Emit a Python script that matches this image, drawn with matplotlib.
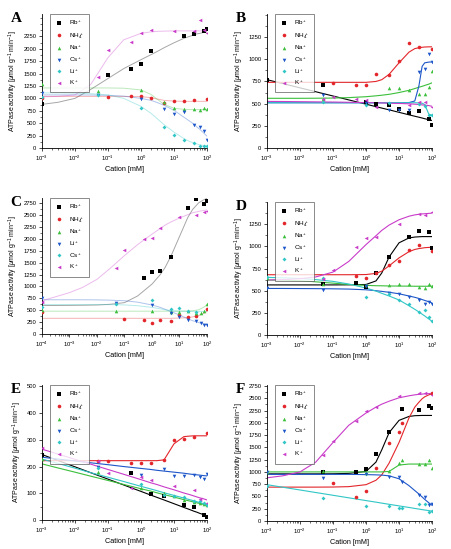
import numpy as np
import matplotlib.pyplot as plt
from matplotlib.ticker import LogLocator, NullFormatter

plt.rcParams['font.family'] = ['Liberation Sans', 'DejaVu Sans']
plt.rcParams['mathtext.fontset'] = 'custom'
plt.rcParams['mathtext.rm'] = 'Liberation Sans'
plt.rcParams['mathtext.it'] = 'Liberation Sans:italic'

# concentrations of measured points [mM]
conc = [0.001, 0.05, 0.1, 0.5, 1, 2, 5, 10, 20, 40, 60, 80, 100]
conc_C = [0.0001, 0.05, 0.1, 0.5, 1, 2, 5, 10, 20, 40, 60, 80, 100]
conc_F = [0.001, 0.05, 0.1, 0.5, 1, 2, 5, 10, 12, 40, 60, 80, 100]
# x where the fitted curves were read
fit_x = [0.001, 0.003, 0.01, 0.03, 0.1, 0.3, 1, 2, 3, 5, 10, 20, 30, 40, 50, 60, 80, 100]
fit_x_C = [0.0001, 0.0003, 0.001, 0.003, 0.01, 0.03, 0.1, 0.3, 1, 2, 3, 5, 10, 20, 30, 50, 80, 100]

# ---- panel A ----
A_rb = [880, None, 1480, 1590, 1700, 1950, None, None, 2260, 2290, None, 2360, 2390]
A_nh4 = [1000, None, 1020, 1040, 1040, 1000, 900, 940, 950, 960, None, None, 990]
A_na = [1290, 1150, None, None, 1160, None, 920, 810, 790, 790, 770, 800, 780]
A_cs = [1110, 1060, None, None, 990, None, 790, 690, 730, 470, 420, 350, 170]
A_li = [1030, 1060, None, None, 810, None, 430, 270, 170, 100, 40, 40, 40]
A_k = [None, 1440, 1980, 2140, 2320, 2380, None, 2350, None, 2350, 2570, 2370, 2320]
A_rb_fit = [880, 920, 1000, 1180, 1400, 1600, 1780, 1880, 1940, 2020, 2120, 2210, 2250, 2280, 2300, 2310, 2330, 2340]
A_nh4_fit = [1040, 1040, 1040, 1040, 1040, 1040, 1035, 1015, 990, 960, 945, 940, 940, 940, 940, 940, 940, 940]
A_na_fit = [1210, 1210, 1210, 1210, 1210, 1205, 1170, 1080, 990, 880, 800, 780, 775, 775, 775, 775, 775, 775]
A_cs_fit = [1070, 1070, 1070, 1068, 1062, 1045, 1000, 960, 920, 860, 760, 620, 540, 480, 420, 380, 300, 240]
A_li_fit = [1110, 1110, 1105, 1095, 1070, 1000, 840, 700, 600, 470, 320, 190, 130, 100, 80, 65, 50, 40]
A_k_fit = [1030, 1040, 1070, 1280, 1820, 2180, 2310, 2340, 2350, 2355, 2360, 2360, 2360, 2360, 2360, 2360, 2360, 2360]

# ---- panel B ----
B_rb = [770, 710, None, None, 520, 500, 480, 440, 390, 420, None, 330, 260]
B_nh4 = [None, None, 730, 715, 710, 835, 825, 985, 1180, 1135, None, None, 1115]
B_na = [None, 550, None, None, None, None, 680, 680, 655, 610, 610, 685, 870]
B_cs = [None, 600, None, None, 510, None, 430, 430, 430, 855, 895, 1060, 970]
B_li = [None, 520, None, None, 480, None, 510, None, None, 495, 475, 370, 370]
B_k = [None, 550, 575, 555, 545, 465, None, None, 480, 515, 515, None, 460]
B_rb_fit = [770, 726, 678, 634, 586, 542, 494, 466, 450, 430, 402, 374, 358, 347, 338, 330, 319, 310]
B_nh4_fit = [740, 740, 740, 740, 740, 740, 740, 750, 770, 830, 960, 1080, 1120, 1130, 1135, 1138, 1140, 1140]
B_na_fit = [560, 560, 560, 561, 563, 568, 578, 588, 595, 605, 625, 650, 670, 685, 695, 705, 720, 735]
B_cs_fit = [510, 510, 510, 510, 510, 510, 510, 510, 510, 510, 510, 512, 530, 700, 920, 960, 968, 970]
B_li_fit = [510, 510, 510, 510, 510, 510, 510, 510, 510, 510, 510, 510, 510, 508, 505, 490, 380, 370]
B_k_fit = [525, 524, 522, 520, 518, 515, 512, 510, 508, 505, 502, 498, 494, 490, 486, 483, 478, 470]

# ---- panel C ----
C_rb = [None, None, None, 1180, 1300, 1320, 1620, None, 2650, 2840, None, 2740, 2800]
C_nh4 = [460, None, 320, 300, 230, 300, 280, 400, 350, 370, None, None, 520]
C_na = [500, 480, None, None, 490, None, 460, 470, 480, 450, 450, 480, 630]
C_li = [750, 650, None, None, 600, None, 450, 350, 290, 270, 240, 200, 190]
C_cs = [570, 640, None, None, 720, None, 520, 540, 490, 470, None, None, None]
C_k = [680, 1380, 1770, 2000, 2010, 2230, None, 2470, None, 2510, None, 2560, 2590]
C_rb_fit = [600, 600, 602, 605, 610, 625, 660, 800, 1050, 1250, 1400, 1650, 2050, 2450, 2620, 2760, 2830, 2850]
C_nh4_fit = [330, 330, 330, 330, 330, 330, 330, 330, 330, 330, 330, 330, 335, 345, 360, 390, 440, 480]
C_na_fit = [480, 480, 480, 480, 480, 480, 480, 480, 480, 480, 480, 480, 480, 482, 488, 510, 570, 620]
C_li_fit = [720, 720, 720, 720, 718, 712, 700, 670, 610, 560, 520, 470, 400, 320, 280, 240, 210, 195]
C_cs_fit = [620, 620, 620, 620, 620, 618, 612, 595, 560, 530, 510, 490, 480, 478, 477, 476, 475, 475]
C_k_fit = [700, 780, 870, 980, 1150, 1380, 1650, 1880, 2100, 2220, 2290, 2360, 2440, 2510, 2550, 2580, 2600, 2610]

# ---- panel D ----
D_rb = [None, 570, None, 585, 540, 700, 875, None, 1100, 1170, None, 1160, 980]
D_nh4 = [None, None, None, 665, 640, 700, 790, 840, 960, 1010, None, None, 950]
D_na = [640, 575, None, None, 560, None, 560, 580, 570, 540, 530, 580, 550]
D_cs = [530, 510, None, None, 550, None, 470, 460, 430, 400, 350, 370, 350]
D_li = [650, 640, None, None, 430, None, 460, 400, 350, 260, 280, 200, 160]
D_k = [None, 630, 730, 990, 1090, 1100, None, 1250, None, 1370, 1350, None, 1390]
D_rb_fit = [565, 565, 565, 565, 565, 566, 570, 610, 700, 880, 1040, 1095, 1105, 1108, 1110, 1110, 1110, 1110]
D_nh4_fit = [680, 680, 680, 680, 680, 680, 682, 695, 720, 780, 870, 940, 965, 975, 980, 985, 988, 990]
D_na_fit = [620, 618, 612, 600, 585, 570, 560, 556, 555, 553, 552, 551, 550, 550, 550, 550, 550, 550]
D_cs_fit = [525, 525, 524, 523, 521, 518, 510, 500, 492, 482, 465, 440, 425, 412, 400, 390, 375, 360]
D_li_fit = [650, 645, 638, 625, 605, 575, 530, 495, 470, 440, 395, 330, 290, 260, 235, 215, 180, 155]
D_k_fit = [620, 625, 635, 655, 710, 830, 1020, 1120, 1180, 1240, 1300, 1340, 1355, 1362, 1366, 1368, 1372, 1375]

# ---- panel E ----
E_rb = [245, None, None, 175, None, 97, 88, None, 58, 48, None, 18, 12]
E_nh4 = [None, 222, 222, 215, 212, 215, 225, 298, 303, 312, None, None, 325]
E_na = [230, 178, None, None, 118, None, 100, 88, 75, 68, 62, 60, 55]
E_cs = [None, 200, None, None, 170, None, 190, 165, 165, 168, 160, 152, 172]
E_li = [None, 195, None, None, 135, None, 95, 88, 85, 70, 70, 65, 55]
E_k = [270, 220, 175, 118, 160, 150, None, 128, None, 112, 80, None, 65]
E_rb_fit = [245, 223, 199, 177, 153, 131, 107, 93, 85, 75, 61, 47, 39, 33, 29, 25, 20, 15]
E_nh4_fit = [222, 222, 222, 222, 222, 222, 222, 222, 222, 225, 285, 312, 314, 315, 315, 315, 315, 315]
E_na_fit = [210, 195, 179, 164, 148, 133, 117, 108, 102, 95, 86, 76, 71, 67, 64, 62, 58, 55]
E_cs_fit = [235, 228, 221, 214, 207, 200, 193, 189, 186, 183, 179, 175, 172, 170, 169, 168, 166, 165]
E_li_fit = [228, 212, 194, 177, 160, 144, 126, 116, 110, 102, 92, 82, 76, 72, 68, 65, 61, 58]
E_k_fit = [265, 247, 227, 209, 189, 171, 151, 139, 133, 124, 113, 101, 95, 90, 86, 83, 79, 75]

# ---- panel F ----
F_rb = [None, 990, None, 1000, 1050, 1370, 1820, None, 2280, 2270, None, 2340, 2310]
F_nh4 = [None, None, 770, 490, 610, 1070, 1590, 1810, 1990, None, None, None, 2600]
F_na = [1000, 1010, None, None, 980, None, 1020, 1180, 1250, 1160, 1170, 1240, 1080]
F_cs = [1000, 880, None, None, 950, None, 890, 900, 800, 530, 490, 330, 340]
F_li = [720, 470, None, None, 310, None, 310, 270, 270, 350, 350, 180, 200]
F_k = [None, 1340, 1620, 2040, 2240, 2330, None, 2550, None, 2610, 2600, None, 2570]
F_rb_fit = [960, 960, 960, 960, 962, 970, 1010, 1200, 1450, 1800, 2050, 2130, 2145, 2148, 2150, 2150, 2150, 2150]
F_nh4_fit = [690, 690, 690, 690, 692, 700, 740, 830, 940, 1180, 1600, 2100, 2320, 2420, 2490, 2530, 2570, 2590]
F_na_fit = [1000, 1000, 1000, 1000, 1000, 1000, 1000, 1000, 1000, 1010, 1140, 1160, 1160, 1160, 1160, 1160, 1160, 1160]
F_cs_fit = [950, 950, 950, 950, 950, 950, 945, 940, 935, 920, 860, 720, 620, 550, 490, 440, 370, 320]
F_li_fit = [740, 688, 632, 580, 524, 472, 416, 384, 364, 340, 308, 276, 256, 243, 232, 224, 211, 200]
F_k_fit = [880, 920, 1000, 1200, 1600, 1950, 2200, 2320, 2380, 2440, 2510, 2550, 2570, 2580, 2585, 2590, 2595, 2600]

# style for each ion
sty = {
    'rb': ('#000000', 's', r'Rb$^+$'),
    'nh4': ('#e3262b', 'o', r'NH$_4^+$'),
    'na': ('#3cbf3c', '^', r'Na$^+$'),
    'cs': ('#1d56c9', 'v', r'Cs$^+$'),
    'li': ('#31c6c6', 'D', r'Li$^+$'),
    'k': ('#c93cc9', '<', r'K$^+$'),
}

# (letter, axes rect, conc, fit x, ylim, yticks, faded fit?, series)
panels = [
    ('A', [0.093, 0.7304, 0.366, 0.2441], conc, fit_x, (1e-3, 100), 2700, 2250, 250, True,
     [('rb', A_rb, A_rb_fit), ('nh4', A_nh4, A_nh4_fit), ('na', A_na, A_na_fit),
      ('cs', A_cs, A_cs_fit), ('li', A_li, A_li_fit), ('k', A_k, A_k_fit)], None),
    ('B', [0.592, 0.7304, 0.366, 0.2441], conc, fit_x, (1e-3, 100), 1510, 1250, 250, False,
     [('rb', B_rb, B_rb_fit), ('nh4', B_nh4, B_nh4_fit), ('na', B_na, B_na_fit),
      ('cs', B_cs, B_cs_fit), ('li', B_li, B_li_fit), ('k', B_k, B_k_fit)], None),
    ('C', [0.093, 0.3916, 0.366, 0.2477], conc_C, fit_x_C, (1e-4, 100), 2860, 2750, 250, True,
     [('rb', C_rb, C_rb_fit), ('nh4', C_nh4, C_nh4_fit), ('na', C_na, C_na_fit),
      ('li', C_li, C_li_fit), ('cs', C_cs, C_cs_fit), ('k', C_k, C_k_fit)], 'swap'),
    ('D', [0.592, 0.3898, 0.366, 0.2422], conc, fit_x, (1e-3, 100), 1500, 1250, 250, False,
     [('rb', D_rb, D_rb_fit), ('nh4', D_nh4, D_nh4_fit), ('na', D_na, D_na_fit),
      ('cs', D_cs, D_cs_fit), ('li', D_li, D_li_fit), ('k', D_k, D_k_fit)], None),
    ('E', [0.093, 0.0528, 0.366, 0.2459], conc, fit_x, (1e-3, 100), 505, 500, 100, False,
     [('rb', E_rb, E_rb_fit), ('nh4', E_nh4, E_nh4_fit), ('na', E_na, E_na_fit),
      ('cs', E_cs, E_cs_fit), ('li', E_li, E_li_fit), ('k', E_k, E_k_fit)], None),
    ('F', [0.592, 0.051, 0.366, 0.2477], conc_F, fit_x, (1e-3, 100), 2770, 2750, 250, False,
     [('rb', F_rb, F_rb_fit), ('nh4', F_nh4, F_nh4_fit), ('na', F_na, F_na_fit),
      ('cs', F_cs, F_cs_fit), ('li', F_li, F_li_fit), ('k', F_k, F_k_fit)], None),
]

fig = plt.figure(figsize=(4.51, 5.49), dpi=100)

for letter, rect, px, fx, xlim, ytop, ymaxtick, ystep, faded, series, mode in panels:
    ax = fig.add_axes(rect)
    if faded and letter == 'C':
        fx = fit_x_C
    for ion, pts, fit in series:
        color, mk, lab = sty[ion]
        # in panel C the blue / cyan symbols belong to Li+ / Cs+
        if mode == 'swap' and ion == 'li':
            color, mk = sty['cs'][0], sty['cs'][1]
        elif mode == 'swap' and ion == 'cs':
            color, mk = sty['li'][0], sty['li'][1]
        lc = color
        ax.plot(fx, fit, color=lc, lw=0.8 if not faded else 0.7,
                alpha=0.35 if faded else 1.0, zorder=2)
        ax.plot(px, np.array(pts, dtype=float), ls='none', marker=mk, color=color,
                ms=2.6 if mk != 'D' else 2.0, mew=0, label=lab, zorder=3)
    ax.set_xscale('log')
    ax.set_xlim(*xlim)
    ax.set_ylim(0, ytop)
    ax.set_yticks(np.arange(0, ymaxtick + 1, ystep))
    ax.xaxis.set_major_locator(LogLocator(base=10, numticks=10))
    ax.xaxis.set_minor_locator(LogLocator(base=10, subs=np.arange(2, 10), numticks=20))
    ax.xaxis.set_minor_formatter(NullFormatter())
    ax.yaxis.set_minor_locator(plt.MultipleLocator(ystep / 2))
    ax.spines['top'].set_visible(False)
    ax.spines['right'].set_visible(False)
    for s in ('left', 'bottom'):
        ax.spines[s].set_linewidth(0.6)
    ax.tick_params(which='major', labelsize=4.2, length=2.5, width=0.5, pad=1.5)
    ax.tick_params(which='minor', length=1.4, width=0.4)
    ax.set_xlabel('Cation [mM]', fontsize=5.2, labelpad=2)
    ax.set_ylabel(r'ATPase activity [$\mu$mol g$^{-1}$ min$^{-1}$]', fontsize=5.0, labelpad=2)
    leg = ax.legend(loc='upper left', bbox_to_anchor=(0.05, 1.0), fontsize=4.6,
                    frameon=True, fancybox=False, handlelength=1.0, handletextpad=1.2,
                    borderpad=0.8, labelspacing=0.55, borderaxespad=0.0)
    leg.get_frame().set_edgecolor('#555555')
    leg.get_frame().set_linewidth(0.6)
    fig.text(rect[0] - 0.07, rect[1] + rect[3] + 0.003, letter, fontsize=11,
             fontweight='bold', family='Liberation Serif', ha='left', va='top')

fig.savefig('out.png', dpi=100)
